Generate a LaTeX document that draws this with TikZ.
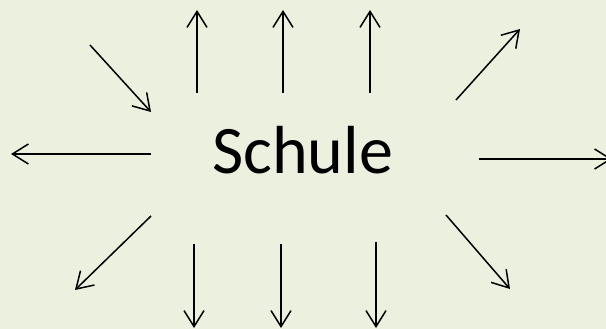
\documentclass[tikz,border=0pt]{standalone}
\usepackage{fontspec}
\setmainfont{Carlito}
\usetikzlibrary{arrows.meta}
\definecolor{bg}{HTML}{EBF1DE}
\tikzset{
  arr/.style={line width=1.5pt, -{Straight Barb[length=16pt,width=20pt,line width=1.5pt]}},
  lbl/.style={font=\fontsize{68}{82}\selectfont, inner sep=0pt, anchor=base}
}
\begin{document}
\begin{tikzpicture}[x=1pt,y=-1pt]
  \fill[bg] (0,0) rectangle (606,329);
  \useasboundingbox (0,0) rectangle (606,329);
  \clip (0,0) rectangle (606,329);
  \node[lbl] (schule) at (302.5,173) {Schule};
  % arrows
  \coordinate (a1s) at (90,45);   \coordinate (a1e) at (151,112);
  \coordinate (a2s) at (197,93);  \coordinate (a2e) at (197,10);
  \coordinate (a3s) at (283,93);  \coordinate (a3e) at (283,10);
  \coordinate (a4s) at (370,93);  \coordinate (a4e) at (370,10);
  \coordinate (a5s) at (456,100); \coordinate (a5e) at (520,29);
  \coordinate (a6s) at (151,154); \coordinate (a6e) at (11,154);
  \coordinate (a7s) at (479,159); \coordinate (a7e) at (612,159);
  \coordinate (a8s) at (151,216); \coordinate (a8e) at (75,290);
  \coordinate (a9s) at (194,244); \coordinate (a9e) at (194,328);
  \coordinate (a10s) at (281,244); \coordinate (a10e) at (281,328);
  \coordinate (a11s) at (376,242); \coordinate (a11e) at (376,328);
  \coordinate (a12s) at (446,215); \coordinate (a12e) at (510,289);
  \foreach \i in {1,...,12} {\draw[arr] (a\i s) -- (a\i e);}
\end{tikzpicture}
\end{document}
